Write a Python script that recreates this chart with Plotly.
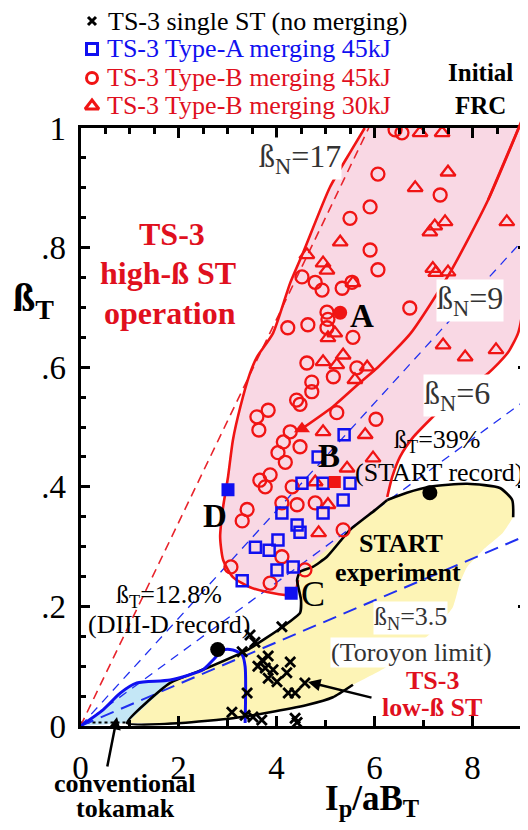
import plotly.graph_objects as go

# ---------------- data ----------------
beta_N_lines = [17, 9, 6, 3.5]

single_x = [4.11, 3.46, 3.56, 3.30, 3.71, 3.83, 3.62, 3.77, 3.93, 4.28, 4.21, 3.83, 4.01, 4.58, 4.24, 4.38, 3.40, 3.09, 3.36, 3.52, 3.70, 4.38, 4.42]
single_y = [0.166, 0.152, 0.140, 0.124, 0.110, 0.117, 0.100, 0.097, 0.094, 0.107, 0.089, 0.080, 0.074, 0.072, 0.055, 0.055, 0.055, 0.023, 0.018, 0.015, 0.010, 0.013, 0.006]

typeA_x = [5.38, 4.85, 4.52, 4.95, 5.50, 5.36, 4.11, 4.95, 4.42, 4.48, 3.57, 3.85, 4.03, 4.01, 4.34, 3.30]
typeA_y = [0.487, 0.450, 0.406, 0.406, 0.406, 0.378, 0.356, 0.356, 0.336, 0.324, 0.299, 0.294, 0.311, 0.261, 0.266, 0.243]

typeB45_x = [6.42, 6.56, 6.07, 7.34, 5.91, 5.50, 5.91, 6.07, 4.52, 4.79, 4.93, 5.34, 5.54, 6.72, 4.23, 4.64, 5.03, 5.05, 5.03, 5.56,
             4.62, 5.64, 5.16, 4.72, 4.72, 4.41, 4.48, 3.60, 3.83, 3.64, 5.23, 6.03, 4.28, 4.14, 4.48, 4.03, 4.18, 3.66, 3.87, 3.77,
             4.32, 3.40, 3.30, 4.11, 4.42, 4.79, 5.36, 4.11, 3.07, 3.87, 4.58]
typeB45_y = [0.997, 0.992, 0.923, 0.888, 0.868, 0.849, 0.796, 0.763, 0.751, 0.742, 0.729, 0.732, 0.742, 0.699, 0.666, 0.671, 0.692, 0.680, 0.666, 0.650,
             0.607, 0.599, 0.584, 0.575, 0.559, 0.545, 0.538, 0.517, 0.528, 0.495, 0.524, 0.513, 0.492, 0.475, 0.467, 0.457, 0.441, 0.411, 0.420, 0.400,
             0.400, 0.362, 0.343, 0.373, 0.370, 0.373, 0.328, 0.283, 0.266, 0.239, 0.261]

typeB30_x = [6.93, 7.38, 7.50, 6.83, 7.44, 7.23, 7.13, 8.70, 5.30, 4.62, 4.95, 5.03, 7.19, 7.25, 7.50, 5.56, 5.05, 5.19, 7.40, 7.85,
             8.48, 4.95, 5.36, 5.23, 5.85, 5.60, 4.95, 5.81, 5.97, 4.79, 5.44, 5.05, 4.86]
typeB30_y = [0.992, 0.992, 0.926, 0.900, 0.843, 0.836, 0.826, 0.843, 0.809, 0.788, 0.774, 0.762, 0.765, 0.758, 0.759, 0.741, 0.649, 0.657, 0.637, 0.617,
             0.629, 0.609, 0.620, 0.604, 0.600, 0.579, 0.492, 0.487, 0.448, 0.408, 0.431, 0.370, 0.323]

# highlighted shots
shotA = (5.30, 0.691)
shotB = (5.19, 0.408)
shotTri = (4.52, 0.497)
shotC = (4.30, 0.222)
shotD = (3.01, 0.395)
record_diiid = (2.80, 0.128)
record_start = (7.13, 0.390)

# region boundaries
pink_right_x = [9.08, 9.08, 9.03, 8.93, 8.72, 8.32, 7.60, 7.19, 6.79, 6.52, 6.36, 6.26]
pink_right_y = [1.0, 0.796, 0.701, 0.657, 0.624, 0.590, 0.550, 0.517, 0.483, 0.450, 0.416, 0.383]
start_tl_x = [6.26, 6.01, 5.50, 5.03, 4.74, 4.48]
start_tl_y = [0.378, 0.361, 0.328, 0.283, 0.266, 0.258]
pink_left_x = [4.44, 4.38, 4.21, 3.81, 3.46, 3.11, 2.91, 2.85, 2.91, 3.01, 3.11, 3.26, 3.46, 3.60, 3.93, 4.28, 4.54, 5.09, 5.53, 5.80]
pink_left_y = [0.244, 0.224, 0.219, 0.224, 0.232, 0.249, 0.278, 0.316, 0.366, 0.416, 0.478, 0.533, 0.590, 0.617, 0.657, 0.741, 0.791, 0.901, 0.963, 1.0]

start_left_x = [4.48, 4.42, 4.50, 4.48, 4.13, 3.40, 2.58, 1.83, 0.95]
start_left_y = [0.258, 0.244, 0.211, 0.189, 0.166, 0.127, 0.097, 0.072, 0.005]
start_bottom_x = [0.95, 2.07, 3.11, 3.81, 4.62, 5.15, 5.56]
start_bottom_y = [0.005, 0.005, 0.013, 0.022, 0.035, 0.048, 0.069]
start_rlow_x = [5.56, 6.21, 6.72, 7.23, 7.60, 7.74, 7.89, 8.21, 8.62, 8.83]
start_rlow_y = [0.069, 0.097, 0.127, 0.161, 0.199, 0.239, 0.266, 0.294, 0.323, 0.349]
start_top_x = [8.83, 8.81, 8.56, 7.89, 7.13, 6.66, 6.26]
start_top_y = [0.349, 0.378, 0.398, 0.405, 0.400, 0.390, 0.378]

conv_x = [0, 0.46, 0.81, 1.15, 1.83, 2.50, 2.70, 2.91, 3.11, 3.30, 3.36, 3.36]
conv_y = [0, 0.027, 0.055, 0.072, 0.077, 0.094, 0.110, 0.127, 0.127, 0.119, 0.099, 0.005]

frc_x = [4.48, 5.15, 5.70, 6.07, 6.74, 7.54, 8.32, 9.07]
frc_y = [0.495, 0.534, 0.574, 0.600, 0.657, 0.758, 0.880, 1.025]

x_ticks = [0, 2, 4, 6, 8]
y_ticks = [0, 0.2, 0.4, 0.6, 0.8, 1.0]
y_ticktext = ["0", ".2", ".4", ".6", ".8", "1"]

# ---------------- layout geometry ----------------
W, H = 528, 830
OFF = 8.0                      # page body margin of the html page
X0PX, XS = 80.5 - OFF, 49.0    # figure-pixel position of x=0, px per unit
Y0PX, YS = 726.0 - OFF, 598.0  # figure-pixel position of y=0, px per unit
XMAX = 9.11

def px(x):
    return (x - OFF) / W

def py(y):
    return 1 - (y - OFF) / H

RED = "#f01414"
TRED = "#e0101e"
BLUE = "#1010f0"
FONT = "Liberation Serif"

fig = go.Figure()

def line_tr(x, y, color, width, dash=None, shape="spline", xa="x", ya="y", smooth=0.6):
    ln = dict(color=color, width=width, shape=shape)
    if shape == "spline":
        ln["smoothing"] = smooth
    if dash:
        ln["dash"] = dash
    return go.Scatter(x=x, y=y, mode="lines", line=ln, hoverinfo="skip",
                      showlegend=False, xaxis=xa, yaxis=ya)

# fills
pink_x = pink_right_x + start_tl_x + pink_left_x
pink_y = pink_right_y + start_tl_y + pink_left_y
fig.add_trace(go.Scatter(x=pink_x, y=pink_y, mode="lines", fill="toself", fillcolor="#f9d8e4",
                         line=dict(width=0, shape="spline", smoothing=0.5), hoverinfo="skip", showlegend=False))
st_x = start_left_x + start_bottom_x + start_rlow_x + start_top_x
st_y = start_left_y + start_bottom_y + start_rlow_y + start_top_y
fig.add_trace(go.Scatter(x=st_x, y=st_y, mode="lines", fill="toself", fillcolor="#fdf4b6",
                         line=dict(width=0, shape="spline", smoothing=0.5), hoverinfo="skip", showlegend=False))
lb_x = conv_x[:6] + start_left_x[-2:] + [0]
lb_y = conv_y[:6] + start_left_y[-2:] + [0]
fig.add_trace(go.Scatter(x=lb_x, y=lb_y, mode="lines", fill="toself", fillcolor="#c4e7f6",
                         line=dict(width=0), hoverinfo="skip", showlegend=False))

# dotted base of conventional tokamak
fig.add_trace(line_tr([0, start_left_x[-1]], [0.006, 0.006], "black", 2, dash="dot", shape="linear"))

# beta_N lines
for bn in beta_N_lines:
    s = bn / 100.0
    xe = min(XMAX, 1.0 / s)
    if bn == 17:
        fig.add_trace(line_tr([0, xe], [0, s * xe], "#e8242c", 1.6, dash="9px,6px", shape="linear"))
    elif bn == 3.5:
        fig.add_trace(line_tr([0, xe], [0, s * xe], "#2030f0", 2.0, dash="14px,8px", shape="linear"))
    else:
        fig.add_trace(line_tr([0, xe], [0, s * xe], "#2030f0", 1.3, dash="9px,7px", shape="linear"))

# outlines
fig.add_trace(line_tr(pink_right_x, pink_right_y, RED, 2.6))
fig.add_trace(line_tr(pink_left_x, pink_left_y, RED, 2.6))
fig.add_trace(line_tr(start_tl_x + start_left_x[1:] + start_bottom_x[1:], start_tl_y + start_left_y[1:] + start_bottom_y[1:], "black", 2.6, smooth=0.5))
fig.add_trace(line_tr(start_top_x, start_top_y, "black", 2.6))
fig.add_trace(line_tr(frc_x, frc_y, RED, 2.6))
fig.add_trace(line_tr(conv_x, conv_y, BLUE, 3, smooth=0.7))

# data markers
fig.add_trace(go.Scatter(x=single_x, y=single_y, mode="markers", showlegend=False, hoverinfo="skip",
                         marker=dict(symbol="x-thin", size=10, color="black", line=dict(width=2.8, color="black"))))
fig.add_trace(go.Scatter(x=typeB45_x, y=typeB45_y, mode="markers", showlegend=False, hoverinfo="skip",
                         marker=dict(symbol="circle-open", size=13, color=RED, line=dict(width=2.3))))
fig.add_trace(go.Scatter(x=typeB30_x, y=typeB30_y, mode="markers", showlegend=False, hoverinfo="skip",
                         marker=dict(symbol="triangle-up-open", size=13, color=RED, line=dict(width=2.3))))
fig.add_trace(go.Scatter(x=typeA_x, y=typeA_y, mode="markers", showlegend=False, hoverinfo="skip",
                         marker=dict(symbol="square-open", size=11, color=BLUE, line=dict(width=2.5))))

# special shots
fig.add_trace(go.Scatter(x=[shotA[0]], y=[shotA[1]], mode="markers", showlegend=False, hoverinfo="skip",
                         marker=dict(symbol="circle", size=14, color=RED)))
fig.add_trace(go.Scatter(x=[shotB[0]], y=[shotB[1]], mode="markers", showlegend=False, hoverinfo="skip",
                         marker=dict(symbol="square", size=12, color=RED)))
fig.add_trace(go.Scatter(x=[shotTri[0]], y=[shotTri[1]], mode="markers", showlegend=False, hoverinfo="skip",
                         marker=dict(symbol="triangle-up", size=14, color=RED)))
fig.add_trace(go.Scatter(x=[shotC[0], shotD[0]], y=[shotC[1], shotD[1]], mode="markers", showlegend=False, hoverinfo="skip",
                         marker=dict(symbol="square", size=13, color=BLUE)))
fig.add_trace(go.Scatter(x=[record_diiid[0], record_start[0]], y=[record_diiid[1], record_start[1]], mode="markers",
                         showlegend=False, hoverinfo="skip", marker=dict(symbol="circle", size=15, color="black")))

# top-ticks helper trace
fig.add_trace(go.Scatter(x=[0], y=[0], mode="markers", marker=dict(opacity=0), xaxis="x3", yaxis="y",
                         showlegend=False, hoverinfo="skip"))

# legend row positions (screen px)
LEG_ROWS_PX = [21, 49, 78, 106]

# overlay (unclipped) : FRC line continuation above frame + legend symbols
fig.add_trace(line_tr(frc_x[-2:], frc_y[-2:], RED, 2.6, shape="linear", xa="x2", ya="y2"))
leg_x = (92 - OFF - X0PX) / XS
leg_rows = [(Y0PX - (v - OFF)) / YS for v in LEG_ROWS_PX]
fig.add_trace(go.Scatter(x=[leg_x], y=[leg_rows[0]], mode="markers", xaxis="x2", yaxis="y2", showlegend=False,
                         marker=dict(symbol="x-thin", size=8, color="black", line=dict(width=3, color="black"))))
fig.add_trace(go.Scatter(x=[leg_x], y=[leg_rows[1]], mode="markers", xaxis="x2", yaxis="y2", showlegend=False,
                         marker=dict(symbol="square-open", size=11, color=BLUE, line=dict(width=3))))
fig.add_trace(go.Scatter(x=[leg_x], y=[leg_rows[2]], mode="markers", xaxis="x2", yaxis="y2", showlegend=False,
                         marker=dict(symbol="circle-open", size=11, color=RED, line=dict(width=3))))
fig.add_trace(go.Scatter(x=[leg_x], y=[leg_rows[3]], mode="markers", xaxis="x2", yaxis="y2", showlegend=False,
                         marker=dict(symbol="triangle-up-open", size=12, color=RED, line=dict(width=3))))

# ---------------- annotations ----------------
ann = []

def txt(t, x, y, size=26, color="black", bold=False, anchor="center", bg=None):
    s = "<b>%s</b>" % t if bold else t
    d = dict(text=s, x=px(x), y=py(y), xref="paper", yref="paper", showarrow=False,
             xanchor=anchor, yanchor="middle", align=anchor,
             font=dict(family=FONT, size=size, color=color))
    if bg:
        d["bgcolor"] = bg
        d["borderpad"] = 0
    ann.append(d)

txt("TS-3 single ST (no merging)", 106, LEG_ROWS_PX[0], 26, "black", anchor="left")
txt("TS-3 Type-A merging 45kJ", 105, LEG_ROWS_PX[1], 26, BLUE, anchor="left")
txt("TS-3 Type-B merging 45kJ", 105, LEG_ROWS_PX[2], 26, TRED, anchor="left")
txt("TS-3 Type-B merging 30kJ", 105, LEG_ROWS_PX[3], 26, TRED, anchor="left")
txt("Initial", 480, 72, 25, bold=True)
txt("FRC", 480, 106, 25, bold=True)
txt("TS-3", 172, 234, 32, TRED, bold=True)
txt("high-ß ST", 168, 273, 32, TRED, bold=True)
txt("operation", 170, 313, 32, TRED, bold=True)
txt("ß<sub>N</sub>=17", 300, 158, 32, "#333333", bg="white")
txt("ß<sub>N</sub>=9", 470, 300, 32, "#333333", bg="white")
txt("ß<sub>N</sub>=6", 457, 395, 32, "#333333", bg="white")
txt("ß<sub>N</sub>=3.5", 410, 618, 26, "#333333", bg="white")
txt("(Toroyon limit)", 411, 652, 26, "#333333", bg="white")
txt("A", 362, 316, 33, bold=True)
txt("B", 329, 456, 33, bold=True)
txt("C", 313, 594, 36)
txt("D", 215, 516, 33, bold=True)
txt("ß<sub>T</sub>=39%", 437, 441, 26)
txt("(START record)", 439, 472, 26)
txt("ß<sub>T</sub>=12.8%", 169, 596, 26)
txt("(DIII-D record)", 169, 624, 26)
txt("START", 401, 543, 26, bold=True)
txt("experiment", 398, 572, 26, bold=True)
txt("TS-3", 432, 680, 26, TRED, bold=True)
txt("low-ß ST", 432, 707, 26, TRED, bold=True)
txt("conventional", 125, 783, 26, bold=True)
txt("tokamak", 125, 808, 26, bold=True)
txt("ß<sub>T</sub>", 33, 300, 40, bold=True)
txt("I<sub>p</sub>/aB<sub>T</sub>", 372, 800, 35, bold=True)

# arrows
ann.append(dict(x=(117 - OFF - X0PX) / XS, y=(Y0PX - (717 - OFF)) / YS, xref="x", yref="y", ax=-10, ay=51,
                text="", showarrow=True, arrowhead=2, arrowsize=1, arrowwidth=2.5, arrowcolor="black"))
ann.append(dict(x=(308 - OFF - X0PX) / XS, y=(Y0PX - (682 - OFF)) / YS, xref="x", yref="y", ax=65, ay=16,
                text="", showarrow=True, arrowhead=2, arrowsize=1, arrowwidth=2.5, arrowcolor="black"))

xdom = [X0PX / W, (X0PX + XMAX * XS) / W]
ydom = [1 - Y0PX / H, 1 - (Y0PX - YS) / H]

fig.update_layout(
    template="none",
    width=W, height=H, margin=dict(l=0, r=0, t=0, b=0, pad=0, autoexpand=False),
    paper_bgcolor="white", plot_bgcolor="rgba(0,0,0,0)", showlegend=False,
    font=dict(family=FONT, color="black"),
    annotations=ann,
    xaxis=dict(domain=xdom, range=[0, XMAX], tickmode="array", tickvals=x_ticks, ticktext=[str(v) for v in x_ticks],
               ticks="inside", ticklen=10, tickwidth=3, tickcolor="black", showline=True, linewidth=3,
               linecolor="black", mirror=True, showgrid=False, zeroline=False, automargin=False,
               tickfont=dict(family=FONT, size=33, color="black"), ticklabelstandoff=10,
               minor=dict(tickvals=[1, 3, 5, 7, 9], ticks="inside", ticklen=6, tickwidth=2.5, tickcolor="black", showgrid=False)),
    xaxis3=dict(overlaying="x", side="top", anchor="y", range=[0, XMAX], tickmode="array", tickvals=x_ticks,
                ticks="inside", ticklen=10, tickwidth=3, tickcolor="black", showticklabels=False, showline=False,
                showgrid=False, zeroline=False, automargin=False,
                minor=dict(tickvals=[0.5 + i for i in range(9)] + [1, 3, 5, 7, 9], ticks="inside", ticklen=6,
                           tickwidth=2.5, tickcolor="black", showgrid=False)),
    yaxis=dict(domain=ydom, range=[0, 1], tickmode="array", tickvals=y_ticks, ticktext=y_ticktext,
               ticks="inside", ticklen=9, tickwidth=3, tickcolor="black", showline=True, linewidth=3,
               linecolor="black", mirror="ticks", showgrid=False, zeroline=False, automargin=False,
               tickfont=dict(family=FONT, size=33, color="black"), ticklabelstandoff=5,
               minor=dict(tickvals=[round(0.05 * i, 2) for i in range(1, 20) if i % 4 != 0], ticks="inside",
                          ticklen=5, tickwidth=2.5, tickcolor="black", showgrid=False)),
    xaxis2=dict(domain=[0, 1], range=[-X0PX / XS, (W - X0PX) / XS], visible=False, anchor="y2",
                fixedrange=True, automargin=False),
    yaxis2=dict(domain=[0, 1], range=[(Y0PX - H) / YS, Y0PX / YS], visible=False, anchor="x2",
                fixedrange=True, automargin=False),
)

fig.write_html("out.html")
